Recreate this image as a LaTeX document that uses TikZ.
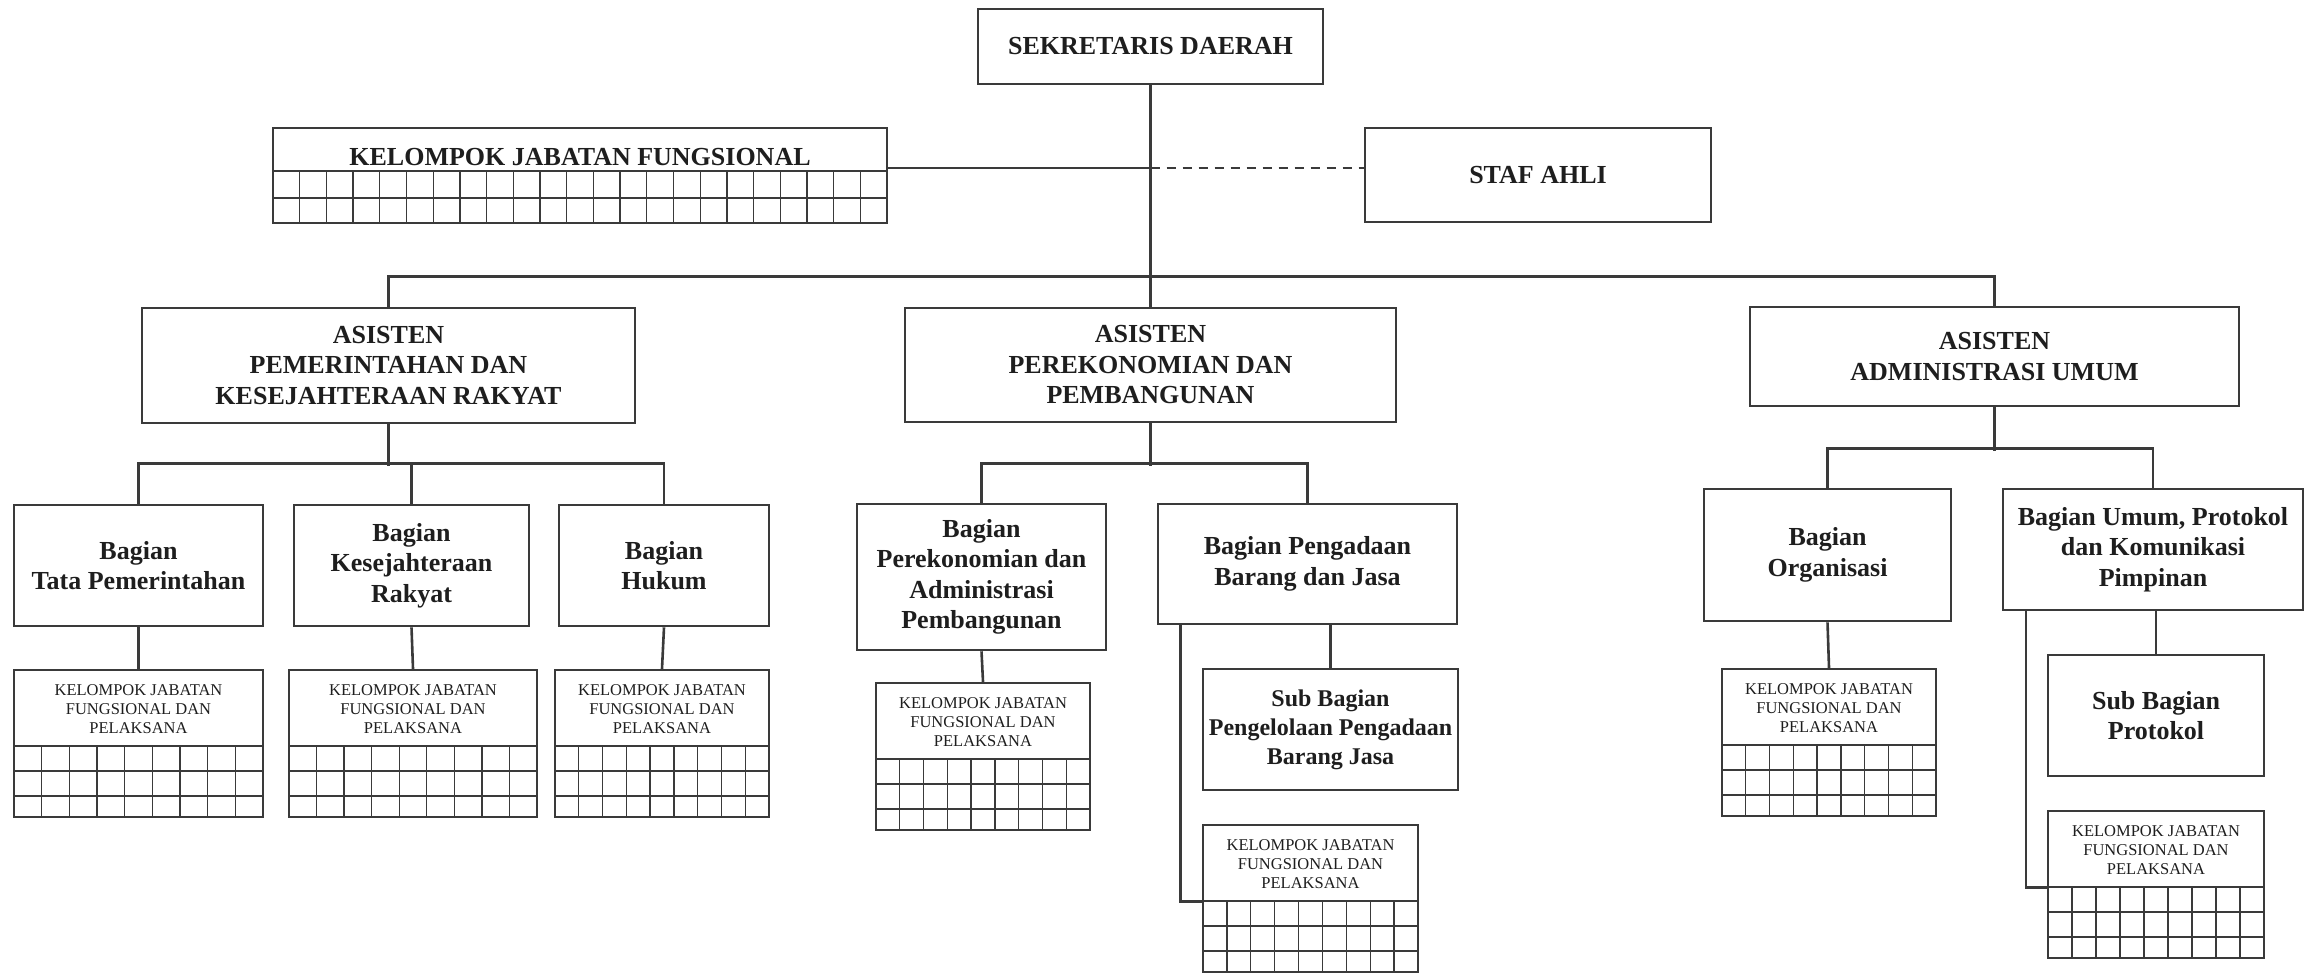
\documentclass[tikz,border=0pt]{standalone}
\usepackage{fontspec}
\setmainfont{Liberation Serif}
\usepackage{tikz}

\definecolor{garis}{HTML}{3A3A3A}
\definecolor{tinta}{HTML}{1E1E1E}

\begin{document}
\begin{tikzpicture}
  [x=1pt,y=-1pt,line width=2.6pt,color=garis,
   every node/.style={inner sep=0pt,text=tinta},
   judul/.style={align=center,font=\bfseries\fontsize{26}{30.5}\selectfont},
   kotak/.style={judul,draw,line width=2.6pt},
   kelompok/.style={draw,line width=2.4pt,minimum height=147pt},
   kecil/.style={align=center,font=\fontsize{16.5}{19}\selectfont},
   kisi/.style={line width=1.3pt}]
  \useasboundingbox (0,0) rectangle (2317,974);

  \node[kotak,minimum width=345pt,minimum height=75pt] (sekda) at (1150.5,46.5) {SEKRETARIS DAERAH};
  \node[kotak,minimum width=614pt,minimum height=95pt] (kjf) at (580,175.5) {};
  \node[judul] (kjfteks) at (580,157) {KELOMPOK JABATAN FUNGSIONAL};
  \node[kotak,minimum width=346pt,minimum height=94pt] (staf) at (1538,175) {STAF AHLI};

  \node[kotak,minimum width=493pt,minimum height=115pt] (as1) at (388.5,365.5) {ASISTEN\\PEMERINTAHAN DAN\\KESEJAHTERAAN RAKYAT};
  \node[kotak,minimum width=491pt,minimum height=114pt] (as2) at (1150.5,365) {ASISTEN\\PEREKONOMIAN DAN\\PEMBANGUNAN};
  \node[kotak,minimum width=489pt,minimum height=99pt] (as3) at (1994.5,356.5) {ASISTEN\\ADMINISTRASI UMUM};

  \node[kotak,minimum width=249pt,minimum height=121pt] (tata) at (138.5,565.5) {Bagian\\Tata Pemerintahan};
  \node[kotak,minimum width=235pt,minimum height=121pt] (kesra) at (411.5,565.5) {Bagian\\Kesejahteraan\\Rakyat};
  \node[kotak,minimum width=210pt,minimum height=121pt] (hukum) at (664,565.5) {Bagian\\Hukum};
  \node[kotak,minimum width=249pt,minimum height=146pt] (perek) at (981.5,577) {Bagian\\Perekonomian dan\\Administrasi\\Pembangunan};
  \node[kotak,minimum width=299pt,minimum height=120pt] (pbj) at (1307.5,564) {Bagian Pengadaan\\Barang dan Jasa};
  \node[kotak,minimum width=255pt,minimum height=121pt,font=\bfseries\fontsize{24}{29}\selectfont] (subpbj) at (1330.5,729.5) {Sub Bagian\\Pengelolaan Pengadaan\\Barang Jasa};
  \node[kotak,minimum width=247pt,minimum height=132pt] (org) at (1827.5,555) {Bagian\\Organisasi};
  \node[kotak,minimum width=300pt,minimum height=121pt] (umum) at (2153,549.5) {Bagian Umum, Protokol\\dan Komunikasi\\Pimpinan};
  \node[kotak,minimum width=216pt,minimum height=121pt] (subprot) at (2156,715.5) {Sub Bagian\\Protokol};

  \foreach \n/\l/\t/\w in {k1/14/670/249,k2/289/670/248,k3/555/670/214,k4/876/683/214,
                           k5/1203/825/215,k6/1722/669/214,k7/2048/811/216}{
    \node[kelompok,minimum width=\w pt] (\n) at (\l+\w/2,\t+73.5) {};
    \node[kecil] (\n-t) at (\l+\w/2,\t+39) {KELOMPOK JABATAN\\FUNGSIONAL DAN\\PELAKSANA};
    \foreach \r in {76,101,126}
      \draw[kisi] (\l,\t+\r) -- (\l+\w,\t+\r);
    \foreach \c in {1,...,8}
      \draw[kisi] (\l+\c*\w/9,\t+76) -- (\l+\c*\w/9,\t+147);
  }

    \draw[kisi] (273,171) -- (887,171);
    \draw[kisi] (273,198) -- (887,198);
    \foreach \c in {1,...,22}
      \draw[kisi] (273+\c*26.7,171) -- (273+\c*26.7,223);

    \coordinate (j) at (1150.5,168);
    \draw (sekda.south) -- (as2.north);
    \draw (kjf.east |- j) -- (j);
    \draw[dashed,dash pattern=on 9pt off 7pt] (j) -- (staf.west |- j);

    \draw (as1.north) -- ++(0,-30) -| (as3.north);

    \draw (as1.south) -- ++(0,42);
    \draw (tata.north) -- ++(0,-40) -| (hukum.north);
    \draw (kesra.north) -- ++(0,-40);
    \draw (as2.south) -- ++(0,43);
    \draw (perek.north) -- ++(0,-39) -| (pbj.north);
    \draw (as3.south) -- ++(0,44);
    \draw (org.north) -- ++(0,-39) -| (umum.north);

    \draw (tata.south) -- (k1.north);
    \draw (kesra.south) -- (k2.north);
    \draw (hukum.south) -- (k3.north);
    \draw (perek.south) -- (k4.north);
    \draw (subpbj.north |- pbj.south) -- (subpbj.north);
    \draw ([xshift=-127pt]pbj.south) |- ([yshift=-3pt]k5.west);
    \draw (org.south) -- (k6.north);
    \draw (subprot.north |- umum.south) -- (subprot.north);
    \draw ([xshift=-127pt]umum.south) |- ([yshift=-3pt]k7.west);

\end{tikzpicture}
\end{document}
